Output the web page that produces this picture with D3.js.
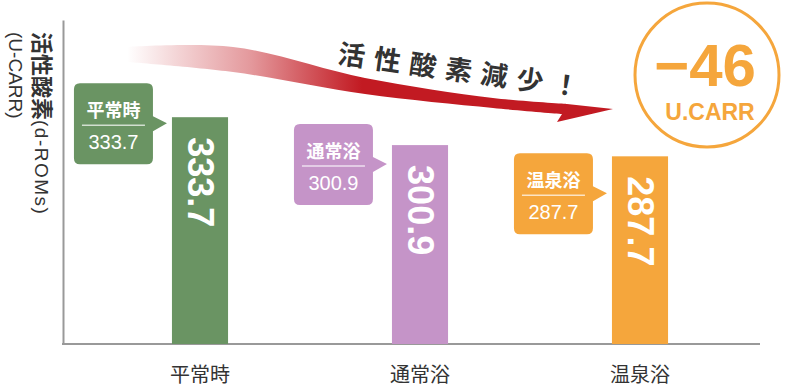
<!DOCTYPE html>
<html><head><meta charset="utf-8">
<script src="https://cdn.jsdelivr.net/npm/d3@7"></script>
<style>html,body{margin:0;padding:0;background:#fff;overflow:hidden}</style>
</head><body><svg id="c" width="790" height="391"></svg>
<script>
const categories = ["平常時", "通常浴", "温泉浴"];
const values = [333.7, 300.9, 287.7];
const barColors = ["#6a9463", "#c594c8", "#f5a63c"];
const yTitleMain = "活性酸素";
const yTitleSub = "(d-ROMs)";
const yTitleUnit = "(U-CARR)";
const headline = "活性酸素減少！";
const unitLabel = "U.CARR";
// layout only: vertical offset of each callout box relative to its bar top
const calloutShift = [-34, -21, -3];

const FONT = "'Liberation Sans','Noto Sans CJK JP',sans-serif";
const svg = d3.select("#c");

const x = d3.scaleBand().domain(categories).range([90, 750])
  .paddingInner(0.745).paddingOuter(0.3725);
const y = d3.scaleLinear().domain([67, 448]).range([344, 20]);
const base = y.range()[0];

// gradient for arrow
const defs = svg.append("defs");
const grad = defs.append("linearGradient").attr("id", "ag")
  .attr("gradientUnits", "userSpaceOnUse")
  .attr("x1", 127).attr("x2", 362).attr("y1", 0).attr("y2", 0);
[[0, 0], [0.23, 0.2], [0.53, 0.45], [0.74, 0.7], [0.91, 0.9], [1, 1]].forEach(([o, a]) =>
  grad.append("stop").attr("offset", o).attr("stop-color", "#c21a22").attr("stop-opacity", a));

// y axis
const yAxis = d3.axisLeft(y).tickValues([]).tickSizeOuter(0);
svg.append("g").attr("transform", "translate(63,0)").call(yAxis)
  .select(".domain").attr("stroke", "#999").attr("stroke-width", 2);

// baseline
svg.append("line").attr("x1", 62).attr("x2", 760).attr("y1", base).attr("y2", base)
  .attr("stroke", "#999").attr("stroke-width", 2);

// bars
svg.selectAll("rect.bar").data(categories).join("rect").attr("class", "bar")
  .attr("x", d => x(d)).attr("width", x.bandwidth())
  .attr("y", (d, i) => y(values[i])).attr("height", (d, i) => base - y(values[i]))
  .attr("fill", (d, i) => barColors[i]);

// rotated value labels inside bars
svg.selectAll("text.bv").data(categories).join("text").attr("class", "bv")
  .attr("transform", (d, i) => `translate(${x(d) + x.bandwidth() / 2},${y(values[i]) + 20}) rotate(90)`)
  .attr("dominant-baseline", "central")
  .attr("font-family", FONT).attr("font-weight", "bold").attr("font-size", 36)
  .attr("fill", "#fff").text((d, i) => d3.format(".1f")(values[i]));

// category labels
svg.selectAll("text.cat").data(categories).join("text").attr("class", "cat")
  .attr("x", d => x(d) + x.bandwidth() / 2).attr("y", 382)
  .attr("text-anchor", "middle").attr("font-family", FONT).attr("font-size", 20)
  .attr("fill", "#333").text(d => d);

// callouts
const bw = 79, bh = 81, r = 6;
categories.forEach((c, i) => {
  const right = x(c) - 19, left = right - bw, top = y(values[i]) + calloutShift[i], bot = top + bh;
  const p = d3.path();
  p.moveTo(left + r, top);
  p.lineTo(right - r, top); p.quadraticCurveTo(right, top, right, top + r);
  p.lineTo(right, top + 33); p.lineTo(right + 14, top + 40); p.lineTo(right, top + 48);
  p.lineTo(right, bot - r); p.quadraticCurveTo(right, bot, right - r, bot);
  p.lineTo(left + r, bot); p.quadraticCurveTo(left, bot, left, bot - r);
  p.lineTo(left, top + r); p.quadraticCurveTo(left, top, left + r, top);
  p.closePath();
  const g = svg.append("g");
  g.append("path").attr("d", p.toString()).attr("fill", barColors[i]);
  const cx = (left + right) / 2;
  g.append("text").attr("x", cx).attr("y", top + 34).attr("text-anchor", "middle")
    .attr("font-family", FONT).attr("font-weight", "bold").attr("font-size", 18)
    .attr("fill", "#fff").text(c);
  g.append("line").attr("x1", left + 8).attr("x2", right - 8).attr("y1", top + 42).attr("y2", top + 42)
    .attr("stroke", "#fff").attr("stroke-opacity", 0.7).attr("stroke-width", 1.5);
  g.append("text").attr("x", cx).attr("y", top + 66).attr("text-anchor", "middle")
    .attr("font-family", FONT).attr("font-size", 20)
    .attr("fill", "#fff").text(d3.format(".1f")(values[i]));
});

// arrow
const topPts = [[127, 47], [233, 47], [365, 78], [493, 98], [567, 104]];
const botPts = [[562, 114], [493, 108], [365, 94], [233, 72], [127, 62]];
const lc = d3.line().curve(d3.curveCatmullRom.alpha(0.5));
const arrowD = lc(topPts) + "L613,109L557,122" + lc(botPts).replace(/^M/, "L") + "Z";
svg.append("path").attr("d", arrowD).attr("fill", "url(#ag)");

// headline
svg.append("text").attr("transform", "translate(337,63) rotate(8)")
  .attr("font-family", FONT).attr("font-weight", "bold").attr("font-size", 27)
  .attr("letter-spacing", 9).attr("fill", "#333").text(headline);

// circle badge
const orange = barColors[2];
svg.append("circle").attr("cx", 707).attr("cy", 75).attr("r", 72)
  .attr("fill", "none").attr("stroke", orange).attr("stroke-width", 3);
const reduction = Math.round(values[2] - values[0]);
svg.append("text").attr("x", 705).attr("y", 86).attr("text-anchor", "middle")
  .attr("font-family", FONT).attr("font-weight", "bold").attr("font-size", 60)
  .attr("fill", orange).text(d3.format("d")(reduction));
svg.append("text").attr("x", 710).attr("y", 120).attr("text-anchor", "middle")
  .attr("font-family", FONT).attr("font-weight", "bold").attr("font-size", 23)
  .attr("fill", orange).text(unitLabel);

// y title (rotated)
const t1 = svg.append("text").attr("transform", "translate(42,32) rotate(90)")
  .attr("dominant-baseline", "central").attr("font-family", FONT).attr("fill", "#333");
t1.append("tspan").attr("font-size", 22).attr("font-weight", "bold").text(yTitleMain);
t1.append("tspan").attr("font-size", 19).attr("letter-spacing", 1.5).text(yTitleSub);
svg.append("text").attr("transform", "translate(15,32) rotate(90)")
  .attr("dominant-baseline", "central").attr("font-family", FONT).attr("fill", "#333")
  .attr("font-size", 19).text(yTitleUnit);
</script></body></html>
